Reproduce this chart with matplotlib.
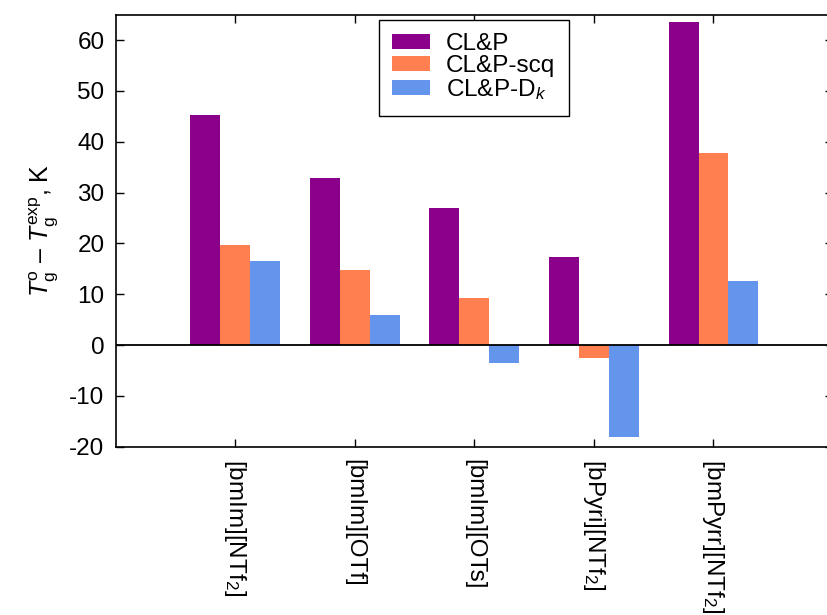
import numpy as np
import matplotlib
matplotlib.use("Agg")
import matplotlib.pyplot as plt

# glass transition temperature deviations per ionic liquid
liquids = [r"[bmIm][NTf$_2$]", "[bmIm][OTf]", "[bmIm][OTs]",
           r"[bPyri][NTf$_2$]", r"[bmPyrr][NTf$_2$]"]
clp = [45.3, 32.8, 27.0, 17.3, 63.5]
clp_scq = [19.6, 14.8, 9.2, -2.5, 37.8]
clp_dk = [16.5, 6.0, -3.5, -18.0, 12.7]

series_labels = ["CL&P", "CL&P-scq", r"CL&P-D$_k$"]
colors = ["#8B008B", "#FF7F50", "#6495ED"]

plt.rcParams["font.family"] = ["Liberation Sans", "DejaVu Sans"]
plt.rcParams["mathtext.fontset"] = "custom"
plt.rcParams["mathtext.rm"] = "Liberation Sans"
plt.rcParams["mathtext.it"] = "Liberation Sans:italic"
plt.rcParams["mathtext.bf"] = "Liberation Sans:bold"
plt.rcParams["axes.unicode_minus"] = False

fig = plt.figure(figsize=(8.27, 6.15), dpi=100)
ax = fig.add_axes([0.1397, 0.2737, 1.0073 - 0.1397, 0.976 - 0.2737])

x = np.arange(1, len(liquids) + 1)
width = 0.25
for i, (vals, lab, col) in enumerate(zip([clp, clp_scq, clp_dk], series_labels, colors)):
    ax.bar(x + (i - 1) * width, vals, width, color=col, label=lab, linewidth=0)

ax.axhline(0, color="black", linewidth=1.3)

ax.set_xlim(0, 6)
ax.set_ylim(-20, 65)
ax.set_yticks(np.arange(-20, 61, 10))
ax.set_xticks(x)
ax.set_xticklabels(liquids, rotation=270, ha="center", va="top")

ax.tick_params(axis="both", direction="in", length=5.5, width=1.0,
               top=True, right=True, labelsize=17.5, pad=8)
ax.tick_params(axis="x", pad=9)
for sp in ax.spines.values():
    sp.set_linewidth(1.2)

ax.set_ylabel(r"$T_\mathrm{g}^\mathrm{o}$ – $T_\mathrm{g}^\mathrm{exp}$, K", fontsize=18, labelpad=6)

leg = ax.legend(loc="upper left", bbox_to_anchor=(379 / 827, 1 - 20 / 615),
                bbox_transform=fig.transFigure, fontsize=17.5, frameon=True,
                fancybox=False, edgecolor="black", framealpha=1,
                handlelength=1.55, handleheight=0.58, handletextpad=0.66,
                labelspacing=0.0, borderpad=0.55, borderaxespad=0)
leg.get_frame().set_linewidth(1.0)

fig.savefig("out.png", dpi=100)
